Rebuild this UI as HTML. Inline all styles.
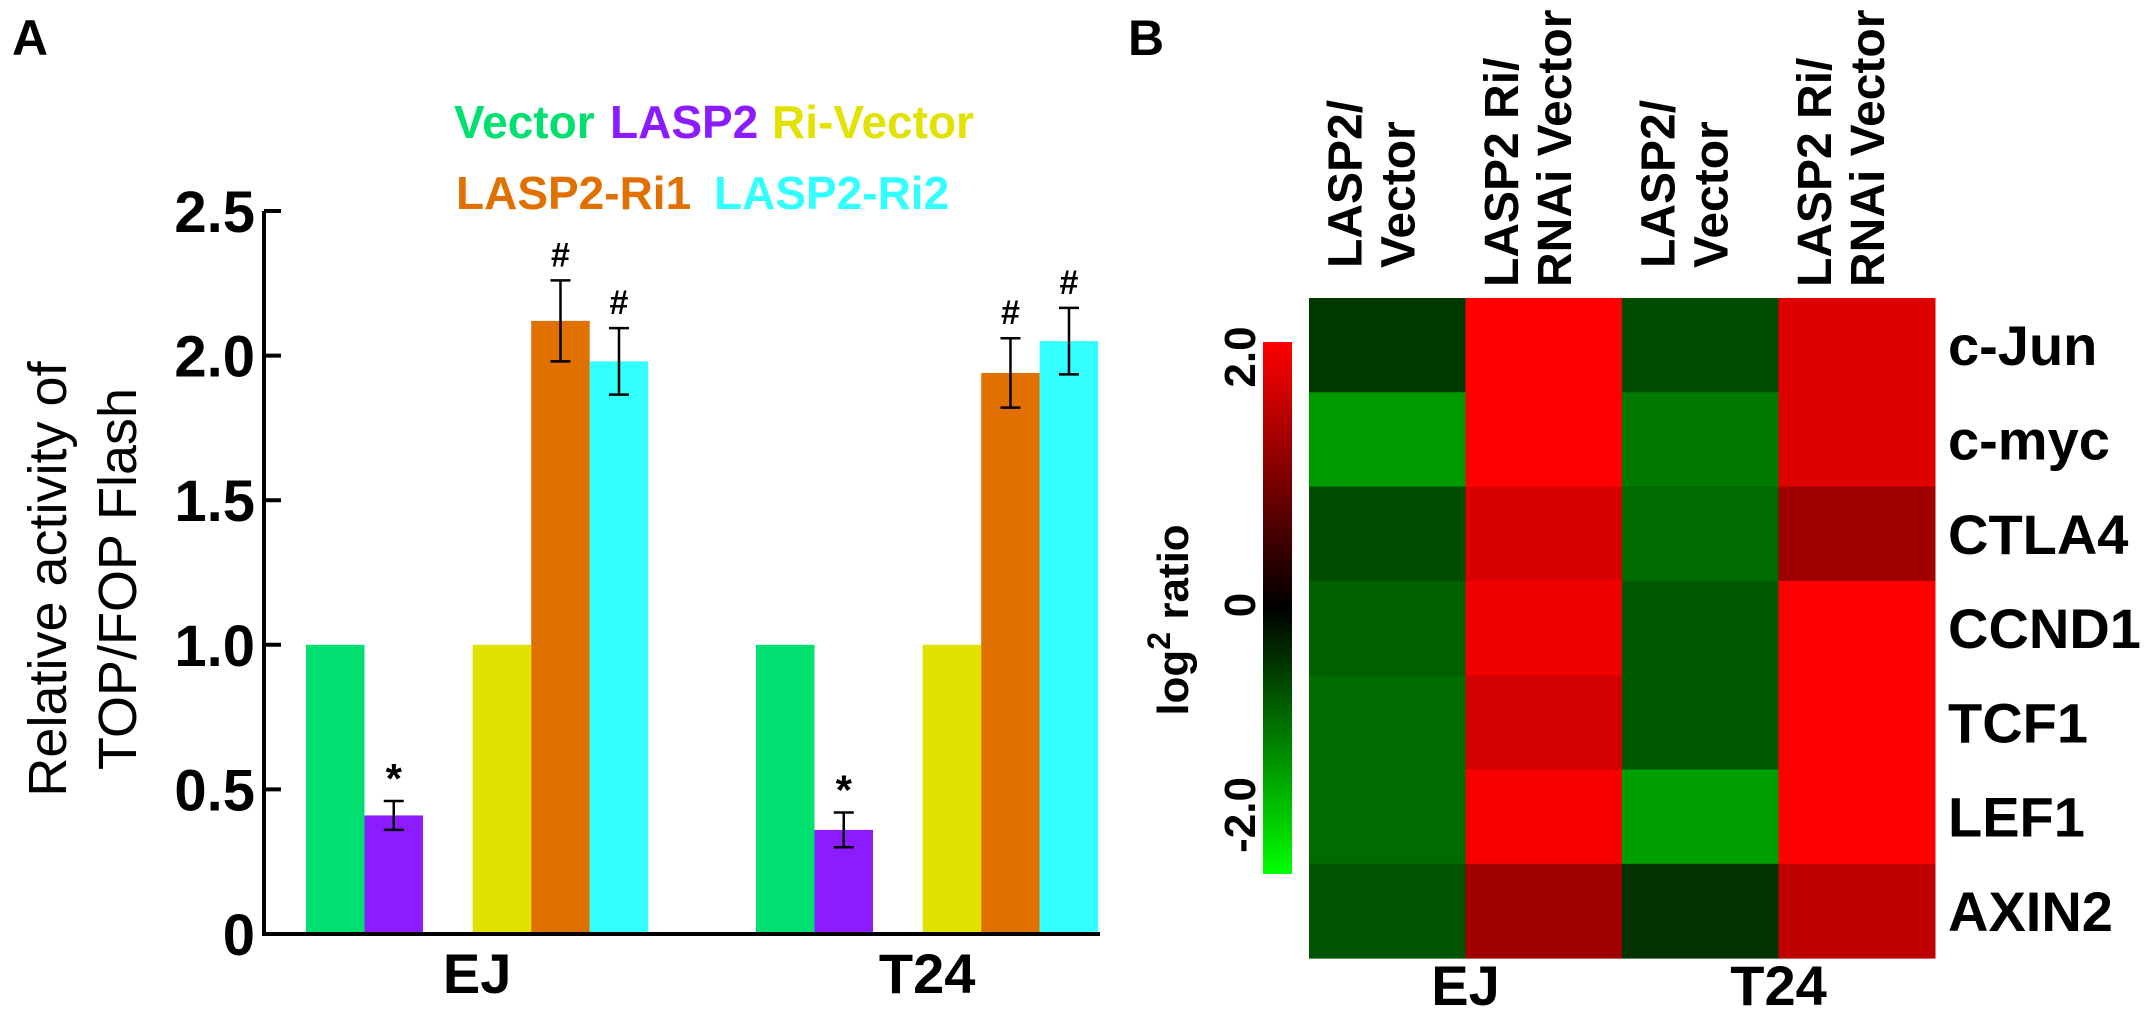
<!DOCTYPE html>
<html><head><meta charset="utf-8">
<style>
html,body{margin:0;padding:0;background:#fff;}
svg{display:block;font-family:"Liberation Sans",Arial,sans-serif;}
</style></head>
<body>
<svg id="fig" width="2150" height="1023" viewBox="0 0 2150 1023" xmlns="http://www.w3.org/2000/svg">
<defs>
<linearGradient id="cbar" x1="0" y1="1" x2="0" y2="0">
<stop offset="0" stop-color="#00ff00"/>
<stop offset="0.5" stop-color="#000000"/>
<stop offset="1" stop-color="#ff0000"/>
</linearGradient>
</defs>
<text x="12" y="55" font-size="50" font-weight="bold">A</text>
<text x="1128" y="55" font-size="50" font-weight="bold">B</text>

<g font-size="46" font-weight="bold">
<text x="454" y="138" fill="#00e070">Vector</text>
<text x="610" y="138" fill="#8c1cff">LASP2</text>
<text x="772" y="138" fill="#e2e200">Ri-Vector</text>
<text x="456" y="209" fill="#e07000">LASP2-Ri1</text>
<text x="714" y="209" fill="#33ffff">LASP2-Ri2</text>
</g>

<g id="barchart"></g>
<g id="heatmap"></g>

<g font-size="54">
<text transform="translate(66,579) rotate(-90)" text-anchor="middle">Relative activity of</text>
<text transform="translate(136,579) rotate(-90)" text-anchor="middle">TOP/FOP Flash</text>
</g>

<rect x="1263" y="342" width="29" height="532" fill="url(#cbar)"/>
<g font-size="44" font-weight="bold">
<text transform="translate(1255,357) rotate(-90)" text-anchor="middle">2.0</text>
<text transform="translate(1255,605) rotate(-90)" text-anchor="middle">0</text>
<text transform="translate(1255,815) rotate(-90)" text-anchor="middle">-2.0</text>
</g>
<text transform="translate(1188,620) rotate(-90)" text-anchor="middle" font-size="44" font-weight="bold">log<tspan baseline-shift="super" font-size="32">2</tspan> ratio</text>

<script>
// ---- Bar chart data ----
const groups = ["EJ", "T24"];
const seriesNames = ["Vector", "LASP2", "Ri-Vector", "LASP2-Ri1", "LASP2-Ri2"];
const seriesColors = ["#00e070", "#8c1cff", "#e2e200", "#e07000", "#33ffff"];
const valuesEJ = [1.0, 0.41, 1.0, 2.12, 1.98];
const valuesT24 = [1.0, 0.36, 1.0, 1.94, 2.05];
const errorsEJ = [0, 0.05, 0, 0.14, 0.115];
const errorsT24 = [0, 0.06, 0, 0.12, 0.115];
const marksEJ = ["", "*", "", "#", "#"];
const marksT24 = ["", "*", "", "#", "#"];
const yTicks = [0, 0.5, 1.0, 1.5, 2.0, 2.5];
const yTickLabels = ["0", "0.5", "1.0", "1.5", "2.0", "2.5"];

// ---- Heatmap data ----
const hmColumns = [["LASP2/", "Vector"], ["LASP2 Ri/", "RNAi Vector"], ["LASP2/", "Vector"], ["LASP2 Ri/", "RNAi Vector"]];
const hmRows = ["c-Jun", "c-myc", "CTLA4", "CCND1", "TCF1", "LEF1", "AXIN2"];
const hmGroups = ["EJ", "T24"];
const hmValues = [
  [-0.45, 2.0, -0.6, 1.75],
  [-1.2, 2.0, -0.95, 1.75],
  [-0.6, 1.7, -0.85, 1.25],
  [-0.75, 1.9, -0.7, 2.0],
  [-0.85, 1.65, -0.7, 2.0],
  [-0.85, 1.95, -1.25, 2.0],
  [-0.65, 1.25, -0.4, 1.5]
];

const NS = "http://www.w3.org/2000/svg";
function mk(tag, attrs, parent) {
  const e = document.createElementNS(NS, tag);
  for (const k in attrs) e.setAttribute(k, attrs[k]);
  parent.appendChild(e);
  return e;
}

// axes
const y0px = 934, unitPx = 289.2, axisX = 264, axisEnd = 1100;
function yScale(v) { return y0px - v * unitPx; }
const groupStart = [306, 756];
const barW = 58.5;
const slotOffsets = [0, 1, 2.85, 3.85, 4.85];
function xBar(g, s) { return groupStart[g] + slotOffsets[s] * barW; }

const bc = document.getElementById("barchart");
const allVals = [valuesEJ, valuesT24];
const allErr = [errorsEJ, errorsT24];
const allMarks = [marksEJ, marksT24];
for (let g = 0; g < groups.length; g++) {
  for (let s = 0; s < seriesNames.length; s++) {
    const v = allVals[g][s];
    const x = xBar(g, s);
    const r = mk("rect", {x: x, y: yScale(v), width: barW, height: y0px - yScale(v), fill: seriesColors[s]}, bc);
    
    
    const e = allErr[g][s];
    if (e > 0) {
      const cx = x + barW / 2;
      const eg = mk("g", {stroke: "#000", "stroke-width": 2.5}, bc);
      
      
      mk("line", {x1: cx, x2: cx, y1: yScale(v + e), y2: yScale(v - e)}, eg);
      mk("line", {x1: cx - 10, x2: cx + 10, y1: yScale(v + e), y2: yScale(v + e)}, eg);
      mk("line", {x1: cx - 10, x2: cx + 10, y1: yScale(v - e), y2: yScale(v - e)}, eg);
    }
    const m = allMarks[g][s];
    if (m) {
      const isStar = m === "*";
      const t = mk("text", {x: x + barW / 2, y: yScale(v + e) - (isStar ? 8 : 14), "text-anchor": "middle", "font-size": isStar ? 42 : 34, "font-weight": "bold"}, bc);
      t.textContent = m;
      
      
    }
  }
  const gl = mk("text", {x: (xBar(g, 0) + xBar(g, 4) + barW) / 2, y: 993, "text-anchor": "middle", "font-size": 56, "font-weight": "bold"}, bc);
  gl.textContent = groups[g];
  
  
}
const ax = mk("path", {d: "M" + axisX + " " + yScale(2.5) + " V" + y0px + " H" + axisEnd, stroke: "#000", "stroke-width": 4, fill: "none"}, bc);


for (let i = 0; i < yTicks.length; i++) {
  const yy = yScale(yTicks[i]);
  const tk = mk("line", {x1: axisX, x2: axisX + 17, y1: yy, y2: yy, stroke: "#000", "stroke-width": 4}, bc);
  
  
  const tl = mk("text", {x: 255, y: yy + 21, "text-anchor": "end", "font-size": 58, "font-weight": "bold"}, bc);
  tl.textContent = yTickLabels[i];
  
  
}

// heatmap
const hm = document.getElementById("heatmap");
const hmX = 1309, hmY = 298, cellW = 156.5, cellH = 94.3;
function hmColor(v) {
  const c = Math.max(-2, Math.min(2, v));
  const k = Math.round(Math.abs(c) / 2 * 255);
  return c >= 0 ? "rgb(" + k + ",0,0)" : "rgb(0," + k + ",0)";
}
for (let r = 0; r < hmRows.length; r++) {
  for (let c = 0; c < hmColumns.length; c++) {
    const cell = mk("rect", {x: hmX + c * cellW, y: hmY + r * cellH, width: cellW + 0.5, height: cellH + 0.5, fill: hmColor(hmValues[r][c])}, hm);
    
    
  }
  const rl = mk("text", {x: 1948, y: hmY + (r + 0.5) * cellH + 20, "font-size": 56, "font-weight": "bold"}, hm);
  rl.textContent = hmRows[r];
  
  
}
const colBottoms = [268, 287, 268, 287];
for (let c = 0; c < hmColumns.length; c++) {
  const cx = hmX + (c + 0.5) * cellW;
  for (let l = 0; l < 2; l++) {
    const lx = cx - 9 + (l === 0 ? -17 : 36);
    const t = mk("text", {transform: "translate(" + lx + "," + colBottoms[c] + ") rotate(-90)", "font-size": 48, "font-weight": "bold"}, hm);
    t.textContent = hmColumns[c][l];
    
    
  }
}
for (let g = 0; g < hmGroups.length; g++) {
  const t = mk("text", {x: hmX + (g * 2 + 1) * cellW, y: 1005, "text-anchor": "middle", "font-size": 56, "font-weight": "bold"}, hm);
  t.textContent = hmGroups[g];
  
  
}
</script>
</svg>
</body></html>
